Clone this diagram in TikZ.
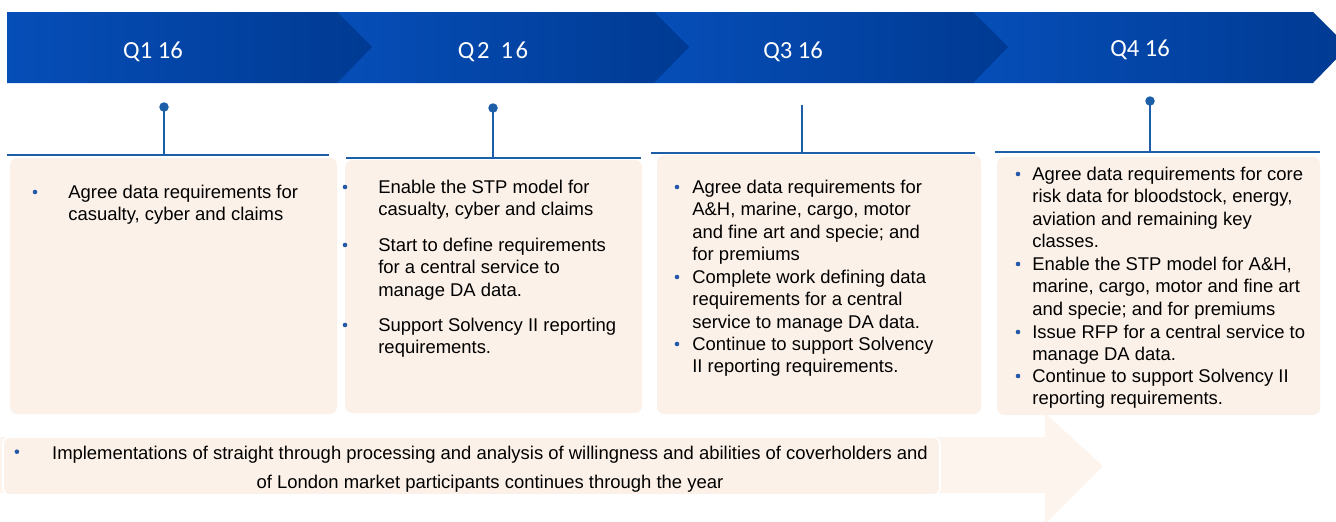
\documentclass[tikz,border=0pt]{standalone}
\usepackage{fontspec}
\setmainfont{Liberation Sans}
\newfontfamily\calibri{Carlito}
\usetikzlibrary{shapes, positioning, calc}
\definecolor{barlight}{RGB}{6,78,184}
\definecolor{bardark}{RGB}{0,58,146}
\definecolor{pinblue}{RGB}{28,94,168}
\definecolor{peach}{RGB}{252,241,232}
\definecolor{peachlight}{RGB}{253,244,237}
\definecolor{dotblue}{RGB}{36,88,168}

\tikzset{
  quarter/.style={text=white, font=\calibri\fontsize{14}{16}\selectfont},
  item/.style={anchor=north west, align=left, inner sep=0pt, font=\fontsize{10.5}{12.75}\selectfont},
  pindot/.style={circle, fill=pinblue, inner sep=0pt, minimum size=1.9mm},
  pinline/.style={pinblue, line width=1.3pt},
  timeline/.style={pinblue, line width=1.6pt},
  card/.style={fill=peach, rounded corners=4pt},
}

\begin{document}
\begin{tikzpicture}[x=0.02cm, y=-0.02cm]
\useasboundingbox (0,0) rectangle (1336,521);

\fill[peachlight] (0,437) -- (1045,437) -- (1045,413) -- (1103,466) -- (1045,524) -- (1045,493) -- (0,493) -- cycle;
\path[card, draw=white, line width=1pt] (3,437) rectangle (940,495);

\foreach \a/\b/\c/\d in {10/158/337/414, 345/160/642/413, 657/155/981/414, 997/157/1320/415}
  \fill[card] (\a,\b) rectangle (\c,\d);

\foreach \a/\b in {973/1313, 654/973, 337/654, 7/337}
  \shade[left color=barlight, right color=bardark] (\a,12) -- (\b,12) -- (\b+35,47) -- (\b,83) -- (\a,83) -- cycle;

\node[quarter] (q1) at (153,52) {Q1 16};
\node[quarter] (q2) at (493,52) {Q\kern1.5pt2\ \ 1\kern1.5pt6};
\node[quarter] (q3) at (793,52) {Q3 16};
\node[quarter] (q4) at (1140,50) {Q4 16};

\foreach \n/\a/\b/\y in {1/7/329/155, 2/346/641/158, 3/651/975/153, 4/995/1320/152} {
  \coordinate (s\n) at (\a,\y);
  \coordinate (e\n) at (\b,\y);
  \draw[timeline] (s\n) -- (e\n);
}
\foreach \n/\x/\y/\t in {1/164/155/107, 2/493/158/108, 4/1150/152/101} {
  \node[pindot] (p\n) at (\x,\t) {};
  \coordinate (f\n) at (\x,\y);
  \draw[pinline] (p\n.center) -- (f\n);
}
\coordinate (p3) at (802,105);
\coordinate (f3) at (802,153);
\draw[pinline] (p3) -- (f3);

\node[item] (a1) at (68,184.5) {Agree data requirements for\\casualty, cyber and claims};

\node[item] (b1) at (378,179.5) {Enable the STP model for\\casualty, cyber and claims};
\node[item] (b2) at (378,237.5) {Start to define requirements\\for a central service to\\manage DA data.};
\node[item] (b3) at (378,317.5) {Support Solvency II reporting\\requirements.};

\node[item] (c1) at (692,179.5) {Agree data requirements for\\A\&H, marine, cargo, motor\\and fine art and specie; and\\for premiums};
\node[item] (c2) at (692,269.5) {Complete work defining data\\requirements for a central\\service to manage DA data.};
\node[item] (c3) at (692,336.5) {Continue to support Solvency\\II reporting requirements.};

\node[item] (d1) at (1032,166.5) {Agree data requirements for core\\risk data for bloodstock, energy,\\aviation and remaining key\\classes.};
\node[item] (d2) at (1032,256.5) {Enable the STP model for A\&H,\\marine, cargo, motor and fine art\\and specie; and for premiums};
\node[item] (d3) at (1032,324.5) {Issue RFP for a central service to\\manage DA data.};
\node[item] (d4) at (1032,368.5) {Continue to support Solvency II\\reporting requirements.};

\foreach \n/\d in {a1/33, b1/33, b2/33, b3/33, c1/15, c2/15, c3/15, d1/14, d2/14, d3/14, d4/14}
  \fill[dotblue] ($(\n.north west)+(-\d,7.5)$) circle (1.3pt);

\node[align=center, font=\fontsize{10.5}{16.5}\selectfont] (year) at (490,469) {Implementations of straight through processing and analysis of willingness and abilities of coverholders and\\of London market participants continues through the year};
\fill[dotblue] ($(year.north west)+(-29,12)$) circle (1.3pt);
\end{tikzpicture}
\end{document}
